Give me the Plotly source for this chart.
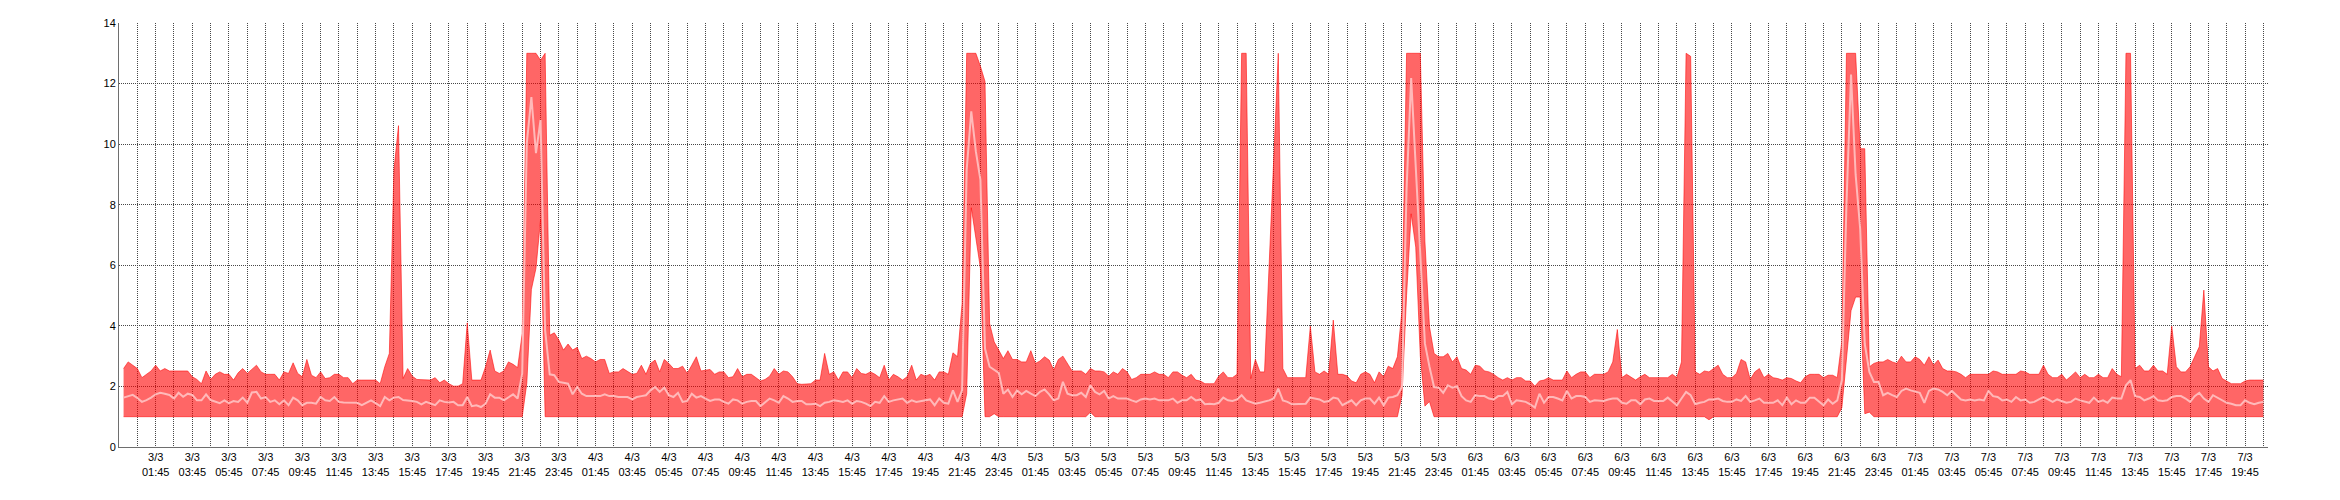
import pandas as pd
import plotly.graph_objects as go

# 15-minute samples starting 3/3 00:00
upper = [
    2.59, 2.81, 2.70, 2.59, 2.29, 2.40, 2.51, 2.70, 2.51, 2.59,
    2.51, 2.51, 2.51, 2.51, 2.51, 2.32, 2.23, 2.09, 2.51, 2.23,
    2.40, 2.48, 2.40, 2.40, 2.21, 2.45, 2.59, 2.43, 2.56, 2.70,
    2.48, 2.40, 2.40, 2.40, 2.21, 2.48, 2.43, 2.78, 2.43, 2.32,
    2.89, 2.37, 2.29, 2.48, 2.26, 2.29, 2.40, 2.40, 2.29, 2.29,
    2.09, 2.21, 2.21, 2.21, 2.21, 2.21, 2.09, 2.65, 3.09, 9.15,
    10.61, 2.26, 2.59, 2.34, 2.23, 2.23, 2.21, 2.21, 2.29, 2.12,
    2.21, 2.09, 2.01, 2.01, 2.09, 4.10, 2.21, 2.21, 2.21, 2.65,
    3.20, 2.51, 2.43, 2.51, 2.81, 2.73, 2.62, 3.75, 13.0, 13.0,
    13.0, 12.77, 13.0, 3.69, 3.77, 3.53, 3.20, 3.40, 3.20, 3.29,
    2.92, 3.00, 2.92, 2.81, 2.89, 2.89, 2.43, 2.48, 2.48, 2.59,
    2.48, 2.40, 2.43, 2.70, 2.40, 2.76, 2.87, 2.48, 2.89, 2.76,
    2.59, 2.59, 2.67, 2.43, 2.70, 2.98, 2.51, 2.54, 2.56, 2.40,
    2.48, 2.48, 2.29, 2.32, 2.59, 2.32, 2.40, 2.40, 2.29, 2.18,
    2.23, 2.34, 2.59, 2.40, 2.51, 2.48, 2.32, 2.09, 2.07, 2.07,
    2.09, 2.21, 2.21, 3.09, 2.40, 2.48, 2.21, 2.48, 2.48, 2.29,
    2.59, 2.43, 2.40, 2.48, 2.40, 2.29, 2.70, 2.21, 2.40, 2.32,
    2.21, 2.32, 2.70, 2.21, 2.40, 2.34, 2.40, 2.21, 2.48, 2.48,
    2.40, 3.11, 2.98, 4.74, 13.0, 13.0, 13.0, 12.57, 12.07, 4.08,
    3.47, 3.20, 2.92, 3.18, 2.89, 2.89, 2.81, 2.81, 3.18, 2.76,
    2.84, 2.98, 2.87, 2.54, 2.89, 3.00, 2.76, 2.51, 2.51, 2.51,
    2.40, 2.59, 2.51, 2.51, 2.48, 2.34, 2.48, 2.40, 2.59, 2.48,
    2.23, 2.29, 2.40, 2.40, 2.40, 2.48, 2.40, 2.40, 2.29, 2.48,
    2.48, 2.37, 2.29, 2.40, 2.21, 2.18, 2.09, 2.09, 2.09, 2.34,
    2.48, 2.29, 2.29, 2.40, 13.0, 13.0, 2.26, 2.89, 2.48, 2.48,
    5.98, 9.45, 13.0, 2.59, 2.29, 2.29, 2.29, 2.29, 2.29, 3.99,
    2.48, 2.40, 2.51, 2.40, 4.19, 2.40, 2.40, 2.35, 2.18, 2.12,
    2.40, 2.48, 2.40, 2.12, 2.48, 2.32, 2.67, 2.59, 2.98, 4.50,
    13.0, 13.0, 13.0, 13.0, 6.80, 3.97, 3.09, 2.98, 2.98, 3.09,
    2.81, 2.98, 2.59, 2.54, 2.40, 2.70, 2.67, 2.51, 2.48, 2.40,
    2.29, 2.21, 2.29, 2.21, 2.29, 2.29, 2.18, 2.18, 2.01, 2.18,
    2.21, 2.29, 2.21, 2.21, 2.21, 2.51, 2.29, 2.40, 2.48, 2.48,
    2.29, 2.40, 2.40, 2.40, 2.48, 2.81, 3.88, 2.29, 2.40, 2.29,
    2.21, 2.32, 2.40, 2.29, 2.29, 2.29, 2.29, 2.29, 2.40, 2.29,
    2.81, 13.0, 12.9, 2.48, 2.40, 2.51, 2.48, 2.59, 2.70, 2.40,
    2.29, 2.29, 2.43, 2.89, 2.81, 2.23, 2.48, 2.59, 2.29, 2.40,
    2.29, 2.26, 2.21, 2.29, 2.26, 2.18, 2.12, 2.32, 2.40, 2.40,
    2.40, 2.29, 2.37, 2.37, 2.29, 3.50, 13.0, 13.0, 13.0, 9.85,
    9.85, 2.65, 2.76, 2.81, 2.81, 2.89, 2.81, 2.76, 3.00, 2.81,
    2.81, 2.98, 2.89, 2.70, 2.98, 2.70, 2.87, 2.59, 2.51, 2.51,
    2.48, 2.40, 2.29, 2.40, 2.40, 2.40, 2.40, 2.40, 2.51, 2.48,
    2.40, 2.40, 2.40, 2.40, 2.51, 2.48, 2.40, 2.40, 2.40, 2.70,
    2.40, 2.29, 2.29, 2.40, 2.21, 2.34, 2.48, 2.29, 2.40, 2.29,
    2.29, 2.40, 2.29, 2.29, 2.59, 2.40, 2.32, 13.0, 13.0, 2.59,
    2.70, 2.51, 2.51, 2.70, 2.51, 2.51, 2.40, 3.99, 2.65, 2.48,
    2.48, 2.65, 2.98, 3.31, 5.18, 2.65, 2.51, 2.59, 2.26, 2.18,
    2.09, 2.09, 2.09, 2.18, 2.21, 2.21, 2.21, 2.21,
]

mean = [
    1.63, 1.68, 1.72, 1.62, 1.49, 1.55, 1.63, 1.74, 1.79, 1.76,
    1.72, 1.60, 1.79, 1.66, 1.76, 1.72, 1.54, 1.54, 1.74, 1.55,
    1.49, 1.45, 1.54, 1.45, 1.52, 1.49, 1.63, 1.46, 1.80, 1.82,
    1.60, 1.65, 1.49, 1.54, 1.41, 1.54, 1.38, 1.63, 1.54, 1.38,
    1.46, 1.46, 1.43, 1.65, 1.54, 1.52, 1.65, 1.49, 1.47, 1.46,
    1.47, 1.46, 1.38, 1.45, 1.54, 1.45, 1.35, 1.65, 1.54, 1.63,
    1.65, 1.55, 1.54, 1.52, 1.49, 1.41, 1.49, 1.43, 1.38, 1.54,
    1.49, 1.47, 1.49, 1.38, 1.38, 1.65, 1.35, 1.38, 1.32, 1.43,
    1.74, 1.63, 1.63, 1.54, 1.65, 1.74, 1.60, 2.43, 10.03, 11.55,
    9.70, 10.80, 3.86, 2.40, 2.37, 2.15, 2.12, 2.09, 1.74, 1.98,
    1.76, 1.68, 1.68, 1.68, 1.68, 1.74, 1.68, 1.68, 1.65, 1.65,
    1.65, 1.57, 1.65, 1.68, 1.71, 1.87, 1.98, 1.82, 1.96, 1.71,
    1.65, 1.79, 1.49, 1.52, 1.76, 1.63, 1.68, 1.60, 1.52, 1.57,
    1.57, 1.49, 1.43, 1.57, 1.54, 1.43, 1.49, 1.52, 1.52, 1.35,
    1.49, 1.60, 1.54, 1.46, 1.68, 1.60, 1.49, 1.52, 1.52, 1.41,
    1.41, 1.43, 1.35, 1.46, 1.49, 1.54, 1.52, 1.49, 1.54, 1.43,
    1.52, 1.49, 1.43, 1.35, 1.49, 1.46, 1.68, 1.49, 1.54, 1.57,
    1.60, 1.46, 1.54, 1.49, 1.52, 1.54, 1.57, 1.38, 1.60, 1.46,
    1.43, 1.87, 1.49, 1.87, 9.15, 11.08, 9.76, 8.82, 3.25, 2.65,
    2.54, 2.45, 1.76, 1.90, 1.65, 1.87, 1.74, 1.85, 1.76, 1.68,
    1.82, 1.90, 1.74, 1.54, 1.60, 2.15, 1.76, 1.71, 1.71, 1.79,
    1.65, 2.04, 1.82, 1.74, 1.85, 1.60, 1.68, 1.60, 1.60, 1.60,
    1.54, 1.49, 1.57, 1.60, 1.57, 1.60, 1.54, 1.54, 1.54, 1.60,
    1.46, 1.54, 1.54, 1.65, 1.54, 1.57, 1.41, 1.43, 1.41, 1.46,
    1.63, 1.54, 1.52, 1.57, 1.71, 1.54, 1.49, 1.43, 1.46, 1.49,
    1.54, 1.60, 1.93, 1.54, 1.49, 1.41, 1.41, 1.41, 1.43, 1.63,
    1.60, 1.57, 1.49, 1.52, 1.63, 1.60, 1.38, 1.45, 1.54, 1.38,
    1.54, 1.60, 1.60, 1.43, 1.63, 1.38, 1.63, 1.65, 1.71, 1.98,
    8.50, 12.18, 9.37, 6.62, 3.42, 2.65, 1.98, 1.96, 1.79, 2.04,
    1.96, 2.01, 1.68, 1.54, 1.49, 1.71, 1.68, 1.68, 1.60, 1.57,
    1.68, 1.68, 1.82, 1.41, 1.54, 1.52, 1.49, 1.41, 1.30, 1.76,
    1.46, 1.65, 1.65, 1.60, 1.54, 1.85, 1.60, 1.68, 1.68, 1.65,
    1.49, 1.54, 1.52, 1.52, 1.57, 1.60, 1.60, 1.46, 1.43, 1.54,
    1.54, 1.41, 1.57, 1.60, 1.52, 1.52, 1.52, 1.63, 1.52, 1.38,
    1.60, 1.82, 1.71, 1.41, 1.46, 1.49, 1.57, 1.57, 1.60, 1.52,
    1.49, 1.49, 1.57, 1.52, 1.68, 1.49, 1.54, 1.60, 1.46, 1.46,
    1.46, 1.54, 1.38, 1.63, 1.41, 1.54, 1.46, 1.46, 1.63, 1.63,
    1.49, 1.38, 1.57, 1.43, 1.54, 2.21, 8.00, 12.30, 9.00, 7.20,
    3.40, 2.48, 2.15, 2.15, 1.71, 1.79, 1.71, 1.65, 1.85, 1.93,
    1.87, 1.82, 1.79, 1.46, 1.85, 1.93, 1.90, 1.82, 1.71, 1.85,
    1.71, 1.57, 1.54, 1.57, 1.54, 1.57, 1.54, 1.85, 1.68, 1.65,
    1.54, 1.57, 1.49, 1.65, 1.54, 1.57, 1.46, 1.49, 1.57, 1.65,
    1.57, 1.49, 1.57, 1.52, 1.46, 1.49, 1.60, 1.54, 1.49, 1.46,
    1.63, 1.49, 1.54, 1.46, 1.63, 1.60, 1.60, 2.04, 2.21, 1.68,
    1.65, 1.54, 1.60, 1.68, 1.54, 1.52, 1.54, 1.65, 1.68, 1.68,
    1.60, 1.49, 1.68, 1.79, 1.60, 1.49, 1.71, 1.63, 1.54, 1.46,
    1.43, 1.38, 1.38, 1.54, 1.46, 1.41, 1.46, 1.49,
]

lower = [
    1, 1, 1, 1, 1, 1, 1, 1, 1, 1, 1, 1, 1, 1, 1, 1, 1, 1, 1, 1,
    1, 1, 1, 1, 1, 1, 1, 1, 1, 1, 1, 1, 1, 1, 1, 1, 1, 1, 1, 1,
    1, 1, 1, 1, 1, 1, 1, 1, 1, 1, 1, 1, 1, 1, 1, 1, 1, 1, 1, 1,
    1, 1, 1, 1, 1, 1, 1, 1, 1, 1, 1, 1, 1, 1, 1, 1, 1, 1, 1, 1,
    1, 1, 1, 1, 1, 1, 1, 1, 2.1, 5.2, 5.9, 7.5, 1, 1, 1, 1, 1, 1, 1, 1,
    1, 1, 1, 1, 1, 1, 1, 1, 1, 1, 1, 1, 1, 1, 1, 1, 1, 1, 1, 1,
    1, 1, 1, 1, 1, 1, 1, 1, 1, 1, 1, 1, 1, 1, 1, 1, 1, 1, 1, 1,
    1, 1, 1, 1, 1, 1, 1, 1, 1, 1, 1, 1, 1, 1, 1, 1, 1, 1, 1, 1,
    1, 1, 1, 1, 1, 1, 1, 1, 1, 1, 1, 1, 1, 1, 1, 1, 1, 1, 1, 1,
    1, 1, 1, 1, 1.76, 7.9, 6.9, 5.9, 1, 1, 1.1, 1, 1, 1, 1, 1, 1, 1, 1, 1,
    1, 1, 1, 1, 1, 1, 1, 1, 1, 1, 1, 1.15, 1, 1, 1, 1, 1, 1, 1, 1,
    1, 1, 1, 1, 1, 1, 1, 1, 1, 1, 1, 1, 1, 1, 1, 1, 1, 1, 1, 1,
    1, 1, 1, 1, 1, 1, 1, 1, 1, 1, 1, 1, 1, 1, 1, 1, 1, 1, 1, 1,
    1, 1, 1, 1, 1, 1, 1, 1, 1, 1, 1, 1, 1, 1, 1, 1, 1, 1, 1, 1.7,
    5.0, 7.7, 6.6, 3.0, 1.35, 1.5, 1, 1, 1, 1, 1, 1, 1, 1, 1, 1, 1, 1, 1, 1,
    1, 1, 1, 1, 1, 1, 1, 1, 1, 1, 1, 1, 1, 1, 1, 1, 1, 1, 1, 1,
    1, 1, 1, 1, 1, 1, 1, 1, 1, 1, 1, 1, 1, 1, 1, 1, 1, 1, 1, 1,
    1, 1, 1, 1, 1, 1, 0.9, 1, 1, 1, 1, 1, 1, 1, 1, 1, 1, 1, 1, 1,
    1, 1, 1, 1, 1, 1, 1, 1, 1, 1, 1, 1, 1, 1, 1, 1.3, 3.0, 4.5, 4.95, 4.95,
    1.1, 1.15, 1, 1, 1, 1, 1, 1, 1, 1, 1, 1, 1, 1, 1, 1, 1, 1, 1, 1,
    1, 1, 1, 1, 1, 1, 1, 1, 1, 1, 1, 1, 1, 1, 1, 1, 1, 1, 1, 1,
    1, 1, 1, 1, 1, 1, 1, 1, 1, 1, 1, 1, 1, 1, 1, 1, 1, 1, 1, 1,
    1, 1, 1, 1, 1, 1, 1, 1, 1, 1, 1, 1, 1, 1, 1, 1, 1, 1, 1, 1,
    1, 1, 1, 1, 1, 1, 1, 1,
]

times = pd.date_range("2020-03-03 00:00", periods=len(upper), freq="15min")

tick_times = pd.date_range("2020-03-03 00:45", "2020-03-07 20:45", freq="h")
tick_text = [f"{t.day}/{t.month}<br>{t:%H:%M}" if t.hour % 2 == 1 else "" for t in tick_times]

font = dict(family="Liberation Sans, Arial, sans-serif", size=11, color="#000000")
grid_color = "#474747"

fig = go.Figure()
fig.add_trace(go.Scatter(
    x=times, y=lower, mode="lines",
    line=dict(color="rgba(255,0,0,0.55)", width=1),
    hoverinfo="skip", showlegend=False,
))
fig.add_trace(go.Scatter(
    x=times, y=upper, mode="lines", fill="tonexty",
    fillcolor="rgba(255,0,0,0.6)",
    line=dict(color="rgba(255,0,0,0.55)", width=1),
    showlegend=False,
))
fig.add_trace(go.Scatter(
    x=times, y=mean, mode="lines",
    line=dict(color="rgb(255,185,185)", width=2),
    showlegend=False,
))

fig.update_layout(
    width=2340, height=500, autosize=False,
    margin=dict(l=119, r=72, t=23, b=53),
    paper_bgcolor="white", plot_bgcolor="white",
    font=font,
    showlegend=False,
)
fig.update_xaxes(
    type="date",
    range=["2020-03-02 23:45", "2020-03-07 21:00"],
    tickmode="array", tickvals=tick_times, ticktext=tick_text,
    tickangle=0, tickfont=font,
    showgrid=True, gridcolor=grid_color, gridwidth=1, griddash="1px,1px",
    showline=True, linecolor="#6e6e6e", linewidth=1,
    ticks="", zeroline=False,
)
fig.update_yaxes(
    range=[0, 14], tickmode="linear", tick0=0, dtick=2,
    tickfont=font,
    showgrid=True, gridcolor=grid_color, gridwidth=1, griddash="1px,1px",
    showline=True, linecolor="#6e6e6e", linewidth=1,
    ticks="", zeroline=False,
)

fig.write_html(
    "out.html",
    config={"displayModeBar": False},
    post_script="document.body.style.margin='0';document.body.style.overflow='hidden';",
)
